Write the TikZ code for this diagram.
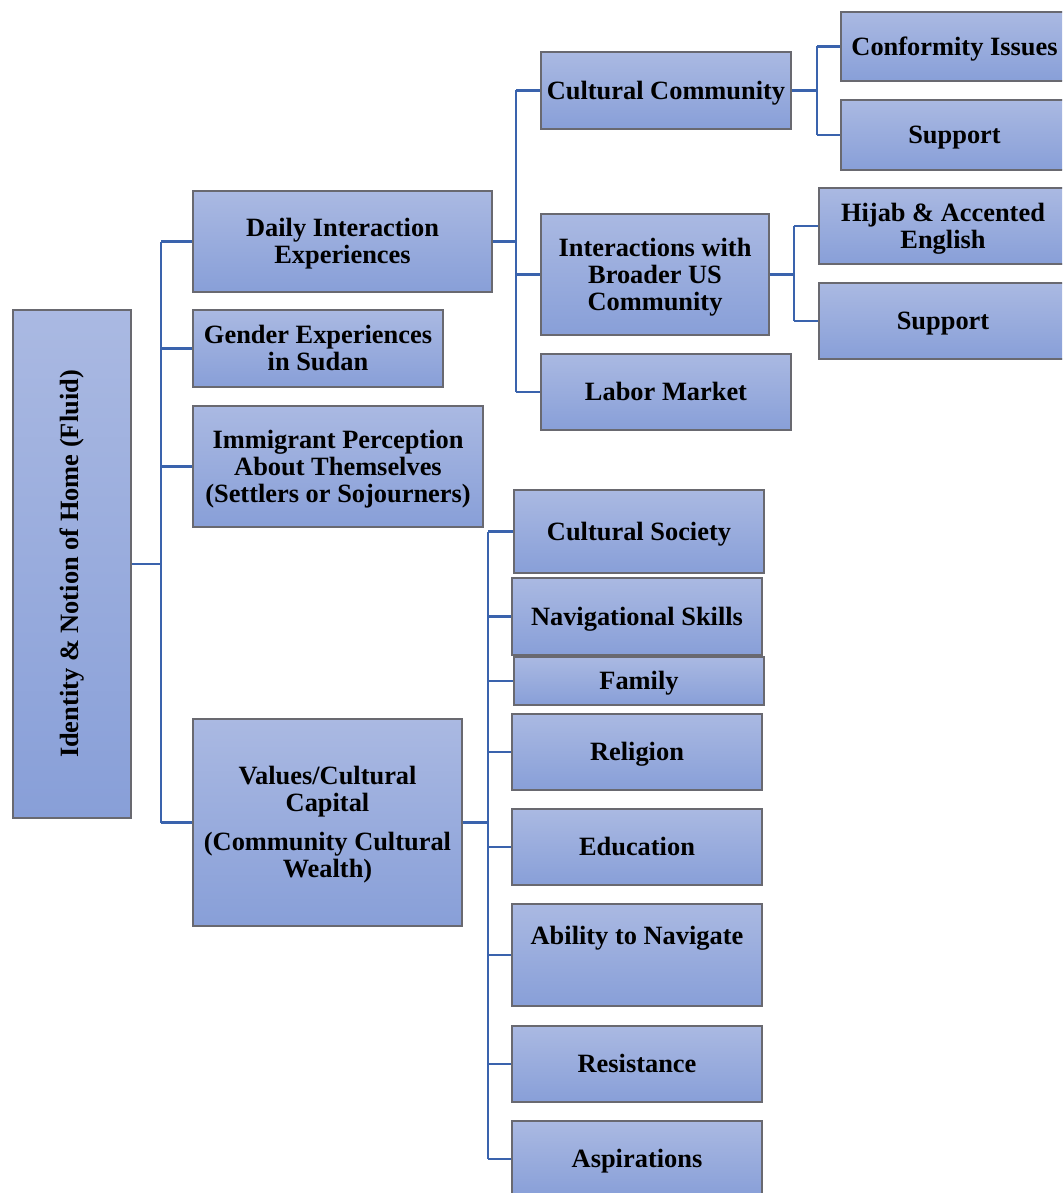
\documentclass[tikz,border=0pt]{standalone}
\usepackage{fontspec}
\usepackage{graphicx}
\setmainfont{Liberation Serif}
\definecolor{boxtop}{RGB}{170,185,226}
\definecolor{boxbot}{RGB}{136,159,216}
\definecolor{boxline}{RGB}{105,105,112}
\definecolor{linkblue}{RGB}{58,99,173}
% struts giving every line box the same ascent and descent
\newcommand\tstrut{\rule{0pt}{23.5pt}}
\newcommand\bstrut{\rule[-5.7pt]{0pt}{0pt}}
\tikzset{
  box/.style={draw=boxline, line width=1.3pt, top color=boxtop, bottom color=boxbot,
    inner sep=0pt, align=center,
    font=\bfseries\fontsize{26.4}{27}\selectfont},
  one/.style={text height=23.5pt, text depth=5.7pt},
  conn/.style={draw=linkblue, line width=2.9pt}
}
\begin{document}
\begin{tikzpicture}[x=1pt,y=-1pt]
\useasboundingbox (0,0) rectangle (1062,1193);
\clip (0,0) rectangle (1062,1193);

% root
\node[box, minimum width=118, minimum height=508] (root) at (72,564)
  {\rotatebox{90}{Identity \& Notion of Home (Fluid)}};

% first level
\node[box, minimum width=299, minimum height=101] (daily) at (342.5,241.5)
  {\tstrut Daily Interaction\\Experiences\bstrut};
\node[box, minimum width=250, minimum height=77] (gender) at (318,348.5)
  {\tstrut Gender Experiences\\in Sudan\bstrut};
\node[box, minimum width=290, minimum height=121] (immig) at (338,466.5)
  {\tstrut Immigrant Perception\\About Themselves\\(Settlers or Sojourners)\bstrut};
\node[box, minimum width=269, minimum height=207] (values) at (327.5,822.5)
  {\tstrut Values/Cultural\\Capital\\[12pt](Community Cultural\\Wealth)\bstrut};

% daily interaction branch
\node[box, one, minimum width=250, minimum height=77] (cc) at (666,90.5)
  {Cultural Community};
\node[box, minimum width=228, minimum height=121] (inter) at (655,274.5)
  {\tstrut Interactions with\\Broader US\\Community\bstrut};
\node[box, one, minimum width=250, minimum height=76] (labor) at (666,392)
  {Labor Market};

\node[box, one, minimum width=227, minimum height=69] (conf) at (954.5,46.5)
  {Conformity Issues};
\node[box, one, minimum width=227, minimum height=70] (supa) at (954.5,135)
  {Support};
\node[box, minimum width=248, minimum height=76] (hijab) at (943,226)
  {\tstrut Hijab \& Accented\\English\bstrut};
\node[box, one, minimum width=248, minimum height=76] (supb) at (943,321)
  {Support};

% values branch
\node[box, one, minimum width=250, minimum height=83] (csoc) at (639,531.5)
  {Cultural Society};
\node[box, one, minimum width=250, minimum height=77] (nav) at (637,616.5)
  {Navigational Skills};
\node[box, one, minimum width=250, minimum height=48] (family) at (639,681)
  {Family};
\node[box, one, minimum width=250, minimum height=76] (relig) at (637,752)
  {Religion};
\node[box, one, minimum width=250, minimum height=76] (educ) at (637,847)
  {Education};
\node[box, minimum width=250, minimum height=102] (abil) at (637,955)
  {\tstrut Ability to Navigate\\[11pt]\phantom{A}\bstrut};
\node[box, one, minimum width=250, minimum height=76] (resist) at (637,1064)
  {Resistance};
\node[box, one, minimum width=250, minimum height=76] (aspir) at (637,1159)
  {Aspirations};

% trunk positions
\coordinate (ta) at (161,0);
\coordinate (tb) at (516,0);
\coordinate (tc) at (817,0);
\coordinate (td) at (794,0);
\coordinate (te) at (488,0);

% root -> first level
\draw[conn] (root.east) -- (root.east -| ta);
\draw[conn] (daily.west -| ta) -- (values.west -| ta);
\foreach \c in {daily,gender,immig,values}
  \draw[conn] (\c.west -| ta) -- (\c.west);

% daily interaction -> children
\draw[conn] (daily.east) -- (daily.east -| tb);
\draw[conn] (cc.west -| tb) -- (labor.west -| tb);
\foreach \c in {cc,inter,labor}
  \draw[conn] (\c.west -| tb) -- (\c.west);

% cultural community -> children
\draw[conn] (cc.east) -- (cc.east -| tc);
\draw[conn] (conf.west -| tc) -- (supa.west -| tc);
\foreach \c in {conf,supa}
  \draw[conn] (\c.west -| tc) -- (\c.west);

% interactions -> children
\draw[conn] (inter.east) -- (inter.east -| td);
\draw[conn] (hijab.west -| td) -- (supb.west -| td);
\foreach \c in {hijab,supb}
  \draw[conn] (\c.west -| td) -- (\c.west);

% values -> children
\draw[conn] (values.east) -- (values.east -| te);
\draw[conn] (csoc.west -| te) -- (aspir.west -| te);
\foreach \c in {csoc,nav,family,relig,educ,abil,resist,aspir}
  \draw[conn] (\c.west -| te) -- (\c.west);
\end{tikzpicture}
\end{document}
